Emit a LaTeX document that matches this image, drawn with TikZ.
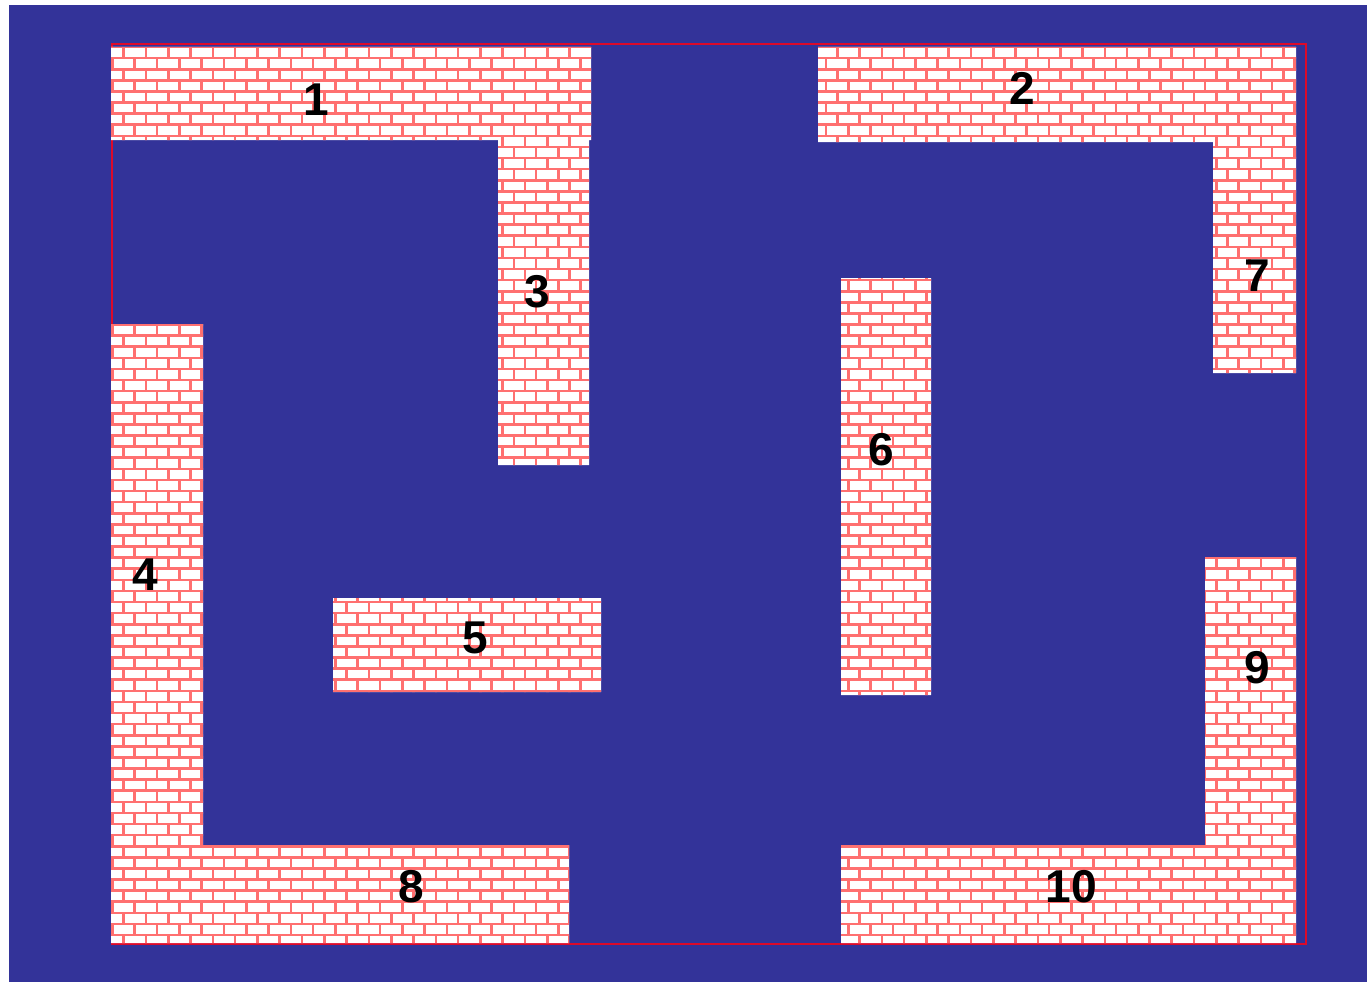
\documentclass[tikz,border=0pt]{standalone}
\usepackage{fontspec}
\setmainfont{Liberation Sans}
\definecolor{bg}{HTML}{333399}
\definecolor{mortar}{HTML}{FF7070}
\definecolor{framered}{HTML}{DD0A2A}
\tikzset{
  numtext/.style={font=\fontsize{46}{46}\selectfont\bfseries, inner sep=0pt, text=black},
  hmortar/.style={mortar, line width=2.6pt},
  vmortar/.style={mortar, line width=11.1pt, dash pattern=on 2.6pt off 19.7pt},
}
\begin{document}
\begin{tikzpicture}[x=1pt,y=-1pt]
\useasboundingbox (0,0) rectangle (1367,982);
\fill[white] (0,0) rectangle (1367,982);
\fill[bg] (9,5) rectangle (1367,982);
\draw[framered, line width=2.5pt] (112,44) rectangle (1306,944);
\begin{scope}
  \clip (111,47) rectangle (591,140)
        (818,47) rectangle (1296,142)
        (498,140) rectangle (589,465)
        (1213,142) rectangle (1296,373)
        (111,324) rectangle (203,943)
        (203,845) rectangle (569,943)
        (333,598) rectangle (601,692)
        (841,278) rectangle (931,695)
        (1205,557) rectangle (1296,845)
        (841,845) rectangle (1296,943);
  \fill[white] (100,40) rectangle (1310,950);
  \foreach \r in {0,...,82} {
    \pgfmathsetmacro\yy{47+\r*11.1}
    \pgfmathsetmacro\ph{mod(\r,2)*11.15}
    \draw[hmortar] (100,\yy) -- (1310,\yy);
    \draw[vmortar, dash phase=\ph pt] (100,\yy+5.55) -- (1310,\yy+5.55);
  }
\end{scope}
\node[numtext] (l1) at (316,100) {1};
\node[numtext] (l2) at (1022,88) {2};
\node[numtext] (l3) at (537,292) {3};
\node[numtext] (l4) at (145,575) {4};
\node[numtext] (l5) at (475,638) {5};
\node[numtext] (l6) at (881,450) {6};
\node[numtext] (l7) at (1257,276) {7};
\node[numtext] (l8) at (411,887) {8};
\node[numtext] (l9) at (1257,668) {9};
\node[numtext] (l10) at (1071,887) {10};
\end{tikzpicture}
\end{document}
